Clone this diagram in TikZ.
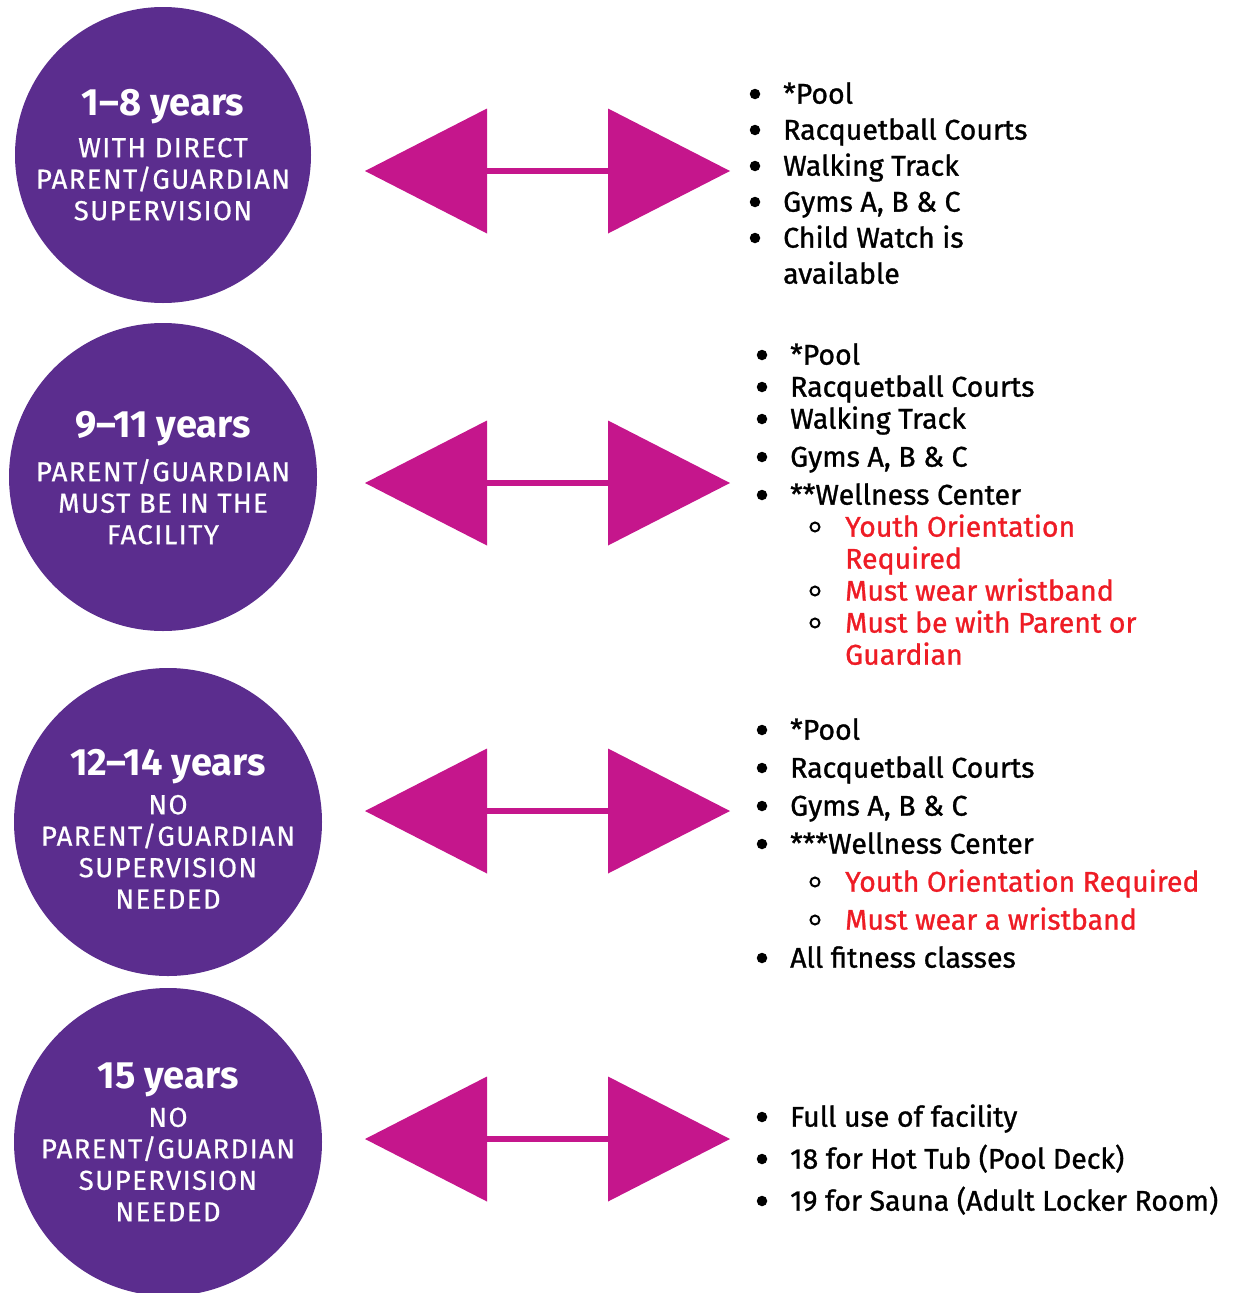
\documentclass[tikz,border=0pt]{standalone}
\usepackage{fontspec}
\setmainfont{Fira Sans}
\newfontfamily\itemfont{Fira Sans}[FakeBold=1]
\newfontfamily\circlefont{Fira Sans}[FakeBold=0.6, LetterSpace=5]
\newfontfamily\headfont{Fira Sans Bold}
\usetikzlibrary{arrows.meta}
\definecolor{agepurple}{HTML}{5B2D8E}
\definecolor{arrowpink}{HTML}{C5168C}
\definecolor{notered}{HTML}{EE1C25}

\begin{document}
\begin{tikzpicture}[x=1pt, y=-1pt,
    agecircle/.style={circle, fill=agepurple, inner sep=0pt},
    agetext/.style={text=white, align=center, inner sep=0pt, font=\circlefont\fontsize{27.5}{31.5}\selectfont},
    twoway/.style={arrowpink, line width=6pt, {Triangle[length=122pt, width=125pt, line width=0pt]}-{Triangle[length=122pt, width=125pt, line width=0pt]}},
    item/.style={anchor=mid west, inner sep=0pt, yshift=-7pt, font=\itemfont\fontsize{28.5}{31}\selectfont},
    note/.style={item, text=notered},
    dot/.style={circle, fill=black, inner sep=0pt, minimum size=10.5pt},
    ring/.style={circle, draw=black, line width=2pt, inner sep=0pt, minimum size=9pt}]
\useasboundingbox (0,0) rectangle (1234,1293);
\clip (0,0) rectangle (1234,1293);

% age groups
\node[agecircle, minimum size=296pt] (age1) at (163,155) {};
\node[agecircle, minimum size=308pt] (age2) at (163,477) {};
\node[agecircle, minimum size=308pt] (age3) at (168,822) {};
\node[agecircle, minimum size=308pt] (age4) at (168,1142) {};
\node[agetext] (txt1) at (age1.center) {{\headfont\fontsize{38}{40}\selectfont 1–8 years}\\[10pt] WITH DIRECT\\ PARENT/GUARDIAN\\ SUPERVISION};
\node[agetext, yshift=-1pt] (txt2) at (age2.center) {{\headfont\fontsize{38}{40}\selectfont 9–11 years}\\[12pt] PARENT/GUARDIAN\\ MUST BE IN THE\\ FACILITY};
\node[agetext, yshift=-7pt] (txt3) at (age3.center) {{\headfont\fontsize{38}{40}\selectfont 12–14 years}\\[7pt] NO\\ PARENT/GUARDIAN\\ SUPERVISION\\ NEEDED};
\node[agetext] (txt4) at (age4.center) {{\headfont\fontsize{38}{40}\selectfont 15 years}\\[7pt] NO\\ PARENT/GUARDIAN\\ SUPERVISION\\ NEEDED};

% arrows
\coordinate (l1) at (365,171);  \coordinate (r1) at (730,171);
\coordinate (l2) at (365,483);  \coordinate (r2) at (730,483);
\coordinate (l3) at (365,811);  \coordinate (r3) at (730,811);
\coordinate (l4) at (365,1139); \coordinate (r4) at (730,1139);
\draw[twoway] (l1) -- (r1);
\draw[twoway] (l2) -- (r2);
\draw[twoway] (l3) -- (r3);
\draw[twoway] (l4) -- (r4);

% 1-8 years
\foreach \y/\t in {94/*Pool, 130/Racquetball Courts, 166/Walking Track, 202/{Gyms A, B \& C}, 238/Child Watch is}
  {\node[dot] (da\y) at (755,\y) {};
   \node[item] (ia\y) at (783,\y) {\t};}
\node[item] (ia274) at (783,274) {available};

% 9-11 years
\foreach \y/\t in {355/*Pool, 387/Racquetball Courts, 419/Walking Track, 457/{Gyms A, B \& C}, 495/**Wellness Center}
  {\node[dot] (db\y) at (762,\y) {};
   \node[item] (ib\y) at (790,\y) {\t};}
\foreach \y in {527, 591, 623}
  \node[ring] (rb\y) at (815,\y) {};
\foreach \y/\t in {527/Youth Orientation, 559/Required, 591/Must wear wristband, 623/Must be with Parent or, 655/Guardian}
  \node[note] (nb\y) at (845,\y) {\t};

% 12-14 years
\foreach \y/\t in {730/*Pool, 768/Racquetball Courts, 806/{Gyms A, B \& C}, 844/***Wellness Center, 958/All fitness classes}
  {\node[dot] (dc\y) at (762,\y) {};
   \node[item] (ic\y) at (790,\y) {\t};}
\foreach \y/\t in {882/Youth Orientation Required, 920/Must wear a wristband}
  {\node[ring] (rc\y) at (815,\y) {};
   \node[note] (nc\y) at (845,\y) {\t};}

% 15 years
\foreach \y/\t in {1117/Full use of facility, 1159/18 for Hot Tub (Pool Deck), 1201/19 for Sauna (Adult Locker Room)}
  {\node[dot] (dd\y) at (762,\y) {};
   \node[item] (id\y) at (790,\y) {\t};}
\end{tikzpicture}
\end{document}
